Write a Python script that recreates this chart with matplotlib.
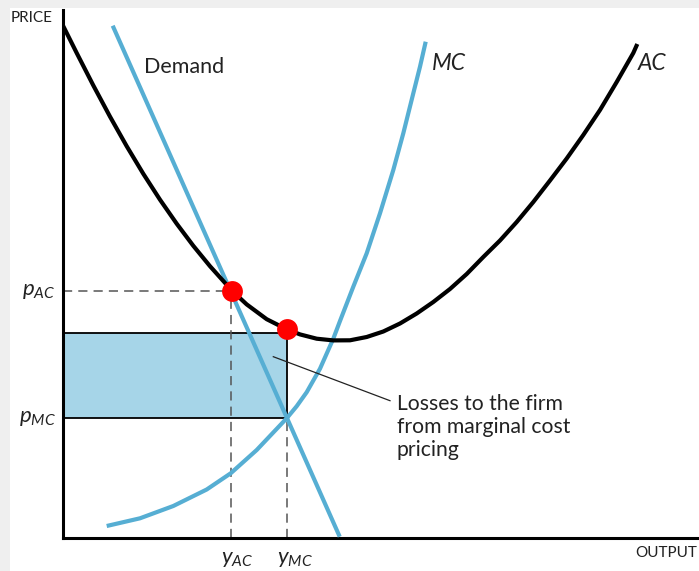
#!/usr/bin/env python

from matplotlib import pyplot as plt
from matplotlib.patches import Rectangle
import matplotlib as mpl

# curves (output, price)
demand_q = [5.0, 27.7]
demand_p = [51.2, 0.1]

ac_q = [0.0, 1.40, 3.06, 4.73, 6.40, 8.06, 9.73, 11.40, 13.06, 14.73, 16.93, 18.40,
        20.40, 22.40, 23.73, 25.40, 27.06, 28.73, 30.40, 32.06, 33.73, 35.40, 37.06,
        38.73, 40.40, 42.06, 43.73, 45.40, 47.06, 48.73, 50.40, 52.06, 53.73, 55.40,
        57.06, 57.46]
ac_p = [51.27, 48.47, 45.23, 42.11, 39.15, 36.39, 33.80, 31.40, 29.19, 27.15, 24.70, 23.33,
        21.85, 20.84, 20.33, 19.90, 19.73, 19.74, 20.07, 20.62, 21.42, 22.42, 23.57,
        24.87, 26.37, 28.07, 29.72, 31.57, 33.57, 35.72, 37.92, 40.27, 42.77, 45.57,
        48.47, 49.37]

mc_q = [4.40, 7.73, 11.06, 14.40, 16.80, 19.40, 22.40, 23.40, 24.40, 25.73, 27.06, 27.73,
        29.06, 30.40, 31.73, 33.06, 34.06, 35.06, 35.73, 36.30]
mc_p = [1.17, 1.94, 3.17, 4.82, 6.44, 8.77, 11.94, 13.15, 14.55, 16.90, 19.90, 21.67,
        25.10, 28.44, 32.44, 36.77, 40.44, 44.44, 47.10, 49.60]

# key points
y_ac, p_ac = 16.8, 24.7
y_mc, p_mc = 22.4, 11.94
ac_at_ymc = 20.84
rect_top = 20.44

BLUE = '#56AED3'
FILL = '#A6D5E8'
TEXT = '#222222'


def main():
    mpl.rcParams['font.family'] = ['Lato', 'DejaVu Sans']
    mpl.rcParams['mathtext.fontset'] = 'custom'
    mpl.rcParams['mathtext.it'] = 'Lato:italic'
    mpl.rcParams['mathtext.rm'] = 'Lato'

    fig = plt.figure(figsize=(6.99, 5.71), dpi=100, facecolor='#EFEFEF')
    # white panel inside the grey border
    fig.patches.append(Rectangle((10 / 699, 0), 1, 1 - 8 / 571, transform=fig.transFigure,
                                 facecolor='white', edgecolor='none', zorder=-10))

    ax = fig.add_axes([62.7 / 699, 33.3 / 571, 636.3 / 699, 527.7 / 571])
    ax.set_xlim(0, 63.63)
    ax.set_ylim(0, 52.77)
    ax.patch.set_alpha(0)
    for side in ['top', 'right']:
        ax.spines[side].set_visible(False)
    for side in ['left', 'bottom']:
        ax.spines[side].set_linewidth(2.2)
    ax.set_xticks([])
    ax.set_yticks([])

    # loss rectangle
    ax.add_patch(Rectangle((0, p_mc), y_mc, rect_top - p_mc, facecolor=FILL,
                           edgecolor='black', linewidth=1.3, zorder=1))

    dash = dict(color='#555555', linewidth=1.1, dashes=(6, 4), zorder=2)
    ax.plot([0, y_ac], [p_ac, p_ac], **dash)
    ax.plot([y_ac, y_ac], [0, p_ac], **dash)
    ax.plot([y_mc, y_mc], [0, p_mc], **dash)

    ax.plot(mc_q, mc_p, color=BLUE, linewidth=3, solid_capstyle='butt',
            solid_joinstyle='round', zorder=3)
    ax.plot(demand_q, demand_p, color=BLUE, linewidth=3, solid_capstyle='butt', zorder=3)
    ax.plot(ac_q, ac_p, color='black', linewidth=3, solid_capstyle='butt',
            solid_joinstyle='round', zorder=4)

    ax.plot([y_ac + 0.13, y_mc], [p_ac, ac_at_ymc], 'o', color='#FF0000',
            markersize=15, markeredgewidth=0, zorder=5)

    # annotation
    ax.plot([21.06, 32.73], [18.1, 13.7], color=TEXT, linewidth=0.9, zorder=5)
    ax.text(33.4, 14.35, 'Losses to the firm\nfrom marginal cost\npricing', fontsize=15.2,
            color=TEXT, ha='left', va='top', linespacing=1.17)

    ax.text(8.13, 47.1, 'Demand', fontsize=15.5, color=TEXT, va='center')
    ax.text(36.9, 47.4, 'MC', fontsize=16.5, style='italic', color=TEXT, va='center')
    ax.text(57.53, 47.4, 'AC', fontsize=16.5, style='italic', color=TEXT, va='center')

    ax.text(-0.97, 51.92, 'PRICE', fontsize=11, color=TEXT, ha='right', va='center',
            clip_on=False)
    ax.text(57.23, -1.53, 'OUTPUT', fontsize=11, color=TEXT, ha='left', va='center',
            clip_on=False)

    ax.text(-0.75, p_ac, r'$p_{AC}$', fontsize=16, color=TEXT, ha='right', va='center')
    ax.text(-0.65, p_mc, r'$p_{MC}$', fontsize=16, color=TEXT, ha='right', va='center')
    ax.text(17.4, -2.15, r'$y_{AC}$', fontsize=16, color=TEXT, ha='center', va='center')
    ax.text(23.23, -2.15, r'$y_{MC}$', fontsize=16, color=TEXT, ha='center', va='center')

    fig.savefig('out.png', dpi=100, facecolor=fig.get_facecolor())
    plt.close(fig)


if __name__ == "__main__":
    main()
